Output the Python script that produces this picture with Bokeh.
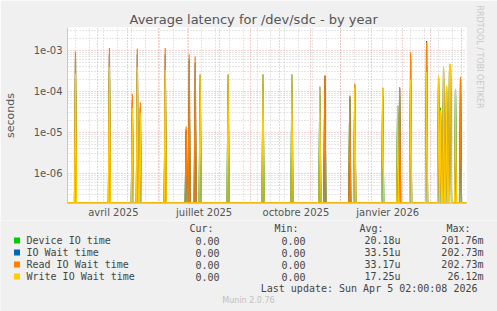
import numpy as np
import pandas as pd
from bokeh.plotting import figure
from bokeh.layouts import column
from bokeh.models import (Range1d, FixedTicker, CustomJSTickFormatter, Grid, Title)
from bokeh.embed import file_html
from bokeh.resources import INLINE
from bokeh.core.properties import value

# ---------------- data ----------------
title_text = "Average latency for /dev/sdc - by year"
y_label = "seconds"
start_date = "2025-03-02"
end_date = "2026-04-06"

spike_dates = ["2025-03-10", "2025-04-13", "2025-05-06", "2025-05-11", "2025-05-14",
               "2025-06-08", "2025-06-29", "2025-07-02", "2025-07-08", "2025-07-13",
               "2025-08-10", "2025-09-14", "2025-10-13", "2025-11-10", "2025-11-15",
               "2025-12-10", "2025-12-15", "2026-01-12", "2026-01-27", "2026-01-29",
               "2026-02-09", "2026-02-25", "2026-03-09", "2026-03-11", "2026-03-14",
               "2026-03-17", "2026-03-20", "2026-03-21", "2026-03-26", "2026-03-31"]
device_vals = [2.0e-4, 3.0e-4, 3.0e-5, 3.0e-4, 2.0e-5,
               2.5e-4, 1.1e-5, 1.0e-4, 1.0e-4, 1.5e-4,
               1.5e-4, 1.5e-4, 1.5e-4, 8.0e-5, 2.45e-4,
               7.0e-5, 1.0e-4, 8.0e-5, 3.0e-5, 8.0e-5,
               1.5e-4, 4.0e-4, 1.5e-4, 4.0e-5, 2.0e-4,
               1.0e-4, 3.0e-4, 2.5e-4, 8.0e-5, 1.5e-4]
iowait_vals = [6.0e-4, 8.0e-4, 6.0e-5, 8.0e-4, 4.0e-5,
               8.0e-4, 1.2e-5, 6.0e-4, 5.0e-4, 2.6e-4,
               2.6e-4, 2.6e-4, 2.6e-4, 1.3e-4, 2.4e-4,
               7.5e-5, 1.4e-4, 1.23e-4, 4.5e-5, 1.2e-4,
               6.0e-4, 1.7e-3, 2.2e-4, 3.0e-5, 3.5e-4,
               1.3e-4, 3.0e-4, 3.5e-4, 1.1e-4, 2.0e-4]
read_vals = [9.5e-4, 1.15e-3, 8.8e-5, 1.1e-3, 5.5e-5,
             1.15e-3, 1.4e-5, 8.0e-4, 7.1e-4, 0,
             0, 0, 0, 0, 2.45e-4,
             8.0e-5, 1.55e-4, 0, 0, 1.28e-4,
             9.0e-4, 1.6e-3, 2.0e-4, 2.4e-5, 3.0e-4,
             1.2e-4, 3.4e-4, 3.0e-4, 0, 2.3e-4]
write_vals = [2.7e-4, 3.9e-4, 4.0e-5, 3.9e-4, 3.0e-5,
              3.4e-4, 0, 0, 0, 2.6e-4,
              2.6e-4, 2.6e-4, 2.6e-4, 1.3e-4, 0,
              0, 1.3e-4, 1.23e-4, 4.5e-5, 0,
              2.0e-4, 3.0e-4, 2.45e-4, 3.5e-5, 4.1e-4,
              1.4e-4, 4.6e-4, 4.7e-4, 1.16e-4, 0]

series_names = ["Device IO time", "IO Wait time", "Read IO Wait time", "Write IO Wait time"]
series_colors = ["#00cc00", "#0066b3", "#ff8000", "#ffcc00"]
cur_text = ["0.00", "0.00", "0.00", "0.00"]
min_text = ["0.00", "0.00", "0.00", "0.00"]
avg_text = ["20.18u", "33.51u", "33.17u", "17.25u"]
max_text = ["201.76m", "202.73m", "202.73m", "26.12m"]
header_text = ["Cur:", "Min:", "Avg:", "Max:"]
last_update = "Last update: Sun Apr  5 02:00:08 2026"
munin_version = "Munin 2.0.76"
side_text = "RRDTOOL / TOBI OETIKER"

y_major = [1e-6, 1e-5, 1e-4, 1e-3]
month_labels_at = ["2025-04-17", "2025-07-17", "2025-10-17", "2026-01-17"]

# ---------------- helpers ----------------
def ms(d):
    return pd.Timestamp(d).value / 1e6

DAY = 86400000.0
x0 = ms(start_date)
x1 = ms(end_date)
ybot = 10 ** (-6.732)
ytop = 10 ** (-2.439)
floor = ybot * 1.03

days = pd.date_range(start_date, end_date, freq="D")
xs = np.array([d.value / 1e6 for d in days])

def build(vals):
    s = pd.Series(floor, index=days)
    for d, v in zip(spike_dates, vals):
        if v > 0:
            s[pd.Timestamp(d)] = v
    return s.values

# ---------------- main chart ----------------
lav = "#c4c4f0"
gridgrey = "#cccccc"
gridred = "#eaa0a0"
p = figure(width=497, height=220, x_axis_type="datetime", y_axis_type="log",
           x_range=Range1d(x0, x1), y_range=Range1d(ybot, ytop),
           output_backend="svg", toolbar_location=None,
           min_border_left=66, min_border_right=31, min_border_top=27, min_border_bottom=17)
p.frame_align = False
p.background_fill_color = "white"
p.border_fill_color = "#f0f0f0"
p.outline_line_color = None

p.title.text = title_text
p.title.align = "left"
p.title.offset = 62
p.title.standoff = 2
p.title.text_font = "DejaVu Sans"
p.title.text_font_size = "13px"
p.title.text_font_style = "normal"
p.title.text_color = "#555555"

p.add_layout(Title(text=side_text, align="left", offset=-22, standoff=16,
                   text_font="DejaVu Sans", text_font_size="8px", text_font_style="normal",
                   text_color="#c8c8c8"), "right")

# y axis
minor = [k * 10 ** e for e in range(-7, -2) for k in range(2, 10)]
p.yaxis.ticker = FixedTicker(ticks=y_major, minor_ticks=minor)
p.yaxis.formatter = CustomJSTickFormatter(code="return tick.toExponential(0).replace('e-', 'e-0');")
p.yaxis.major_tick_out = 0
p.yaxis.minor_tick_out = 0
p.yaxis.major_tick_line_color = None
p.yaxis.minor_tick_line_color = None
p.yaxis.axis_line_color = lav
p.yaxis.major_label_standoff = 5
p.yaxis.major_label_text_font = "DejaVu Sans"
p.yaxis.major_label_text_font_size = "10px"
p.yaxis.major_label_text_color = "#555555"
p.yaxis.axis_label = y_label
p.yaxis.axis_label_text_font = "DejaVu Sans"
p.yaxis.axis_label_text_font_size = "11px"
p.yaxis.axis_label_text_font_style = "normal"
p.yaxis.axis_label_text_color = "#555555"
p.yaxis.axis_label_standoff = 14

# x axis
p.xaxis.ticker = FixedTicker(ticks=[ms(d) for d in month_labels_at])
p.xaxis.formatter = CustomJSTickFormatter(code="""
const m = ['janvier','février','mars','avril','mai','juin','juillet','août','septembre','octobre','novembre','décembre'];
const d = new Date(tick);
return m[d.getUTCMonth()] + ' ' + d.getUTCFullYear();
""")
p.xaxis.major_tick_out = 0
p.xaxis.minor_tick_out = 0
p.xaxis.major_tick_line_color = None
p.xaxis.minor_tick_line_color = None
p.xaxis.axis_line_color = lav
p.xaxis.major_label_standoff = 3
p.xaxis.major_label_text_font = "DejaVu Sans"
p.xaxis.major_label_text_font_size = "10px"
p.xaxis.major_label_text_color = "#555555"

# grids
p.xgrid.visible = False
p.ygrid.grid_line_color = gridred
p.ygrid.grid_line_dash = "1 2"
p.ygrid.minor_grid_line_color = gridgrey
p.ygrid.minor_grid_line_dash = "1 2"

grey_ticks = [ms("2025-03-10") + 14 * DAY * i for i in range(30) if ms("2025-03-10") + 14 * DAY * i < x1]
red_ticks = [ms(d) for d in pd.date_range("2025-04-01", "2026-04-01", freq="MS")]
p.add_layout(Grid(dimension=0, ticker=FixedTicker(ticks=grey_ticks),
                  grid_line_color=gridgrey, grid_line_dash="1 2"))
p.add_layout(Grid(dimension=0, ticker=FixedTicker(ticks=red_ticks),
                  grid_line_color=gridred, grid_line_dash="1 2"))

# series
for vals, col in zip([device_vals, iowait_vals, read_vals, write_vals], series_colors):
    p.line(xs, build(vals), line_color=col, line_width=1.2)

# ---------------- legend panel ----------------
q = figure(width=497, height=91, x_range=Range1d(0, 497), y_range=Range1d(91, 0),
           output_backend="svg", toolbar_location=None, title=None,
           x_axis_location=None, y_axis_location=None, min_border=0)
q.frame_align = False
q.grid.visible = False
q.outline_line_color = None
q.background_fill_color = "#f0f0f0"
q.border_fill_color = "#f0f0f0"

mono = value("DejaVu Sans Mono")
tc = "#444444"
row_y = [20, 32, 44, 56]
q.text(x=[213, 298, 383, 470], y=[8] * 4, text=header_text, text_font=mono,
       text_font_size="10px", text_align="right", text_baseline="middle", text_color=tc)
q.scatter(x=[16.5] * 4, y=row_y, marker="square", size=6, fill_color=series_colors,
          line_color=None)
q.text(x=[26] * 4, y=row_y, text=series_names, text_font=mono, text_font_size="10px",
       text_align="left", text_baseline="middle", text_color=tc)
for colx, txts in zip([219, 305, 400, 483], [cur_text, min_text, avg_text, max_text]):
    q.text(x=[colx] * 4, y=row_y, text=txts, text_font=mono, text_font_size="10px",
           text_align="right", text_baseline="middle", text_color=tc)
q.text(x=[483], y=[68], text=[last_update], text_font=mono, text_font_size="10px",
       text_align="right", text_baseline="middle", text_color=tc)
q.text(x=[248], y=[80], text=[munin_version], text_font=value("DejaVu Sans"),
       text_font_size="8px", text_align="center", text_baseline="middle", text_color="#c0c0c0")

layout = column(p, q, spacing=0)
open("out.html", "w").write(file_html(layout, INLINE))
